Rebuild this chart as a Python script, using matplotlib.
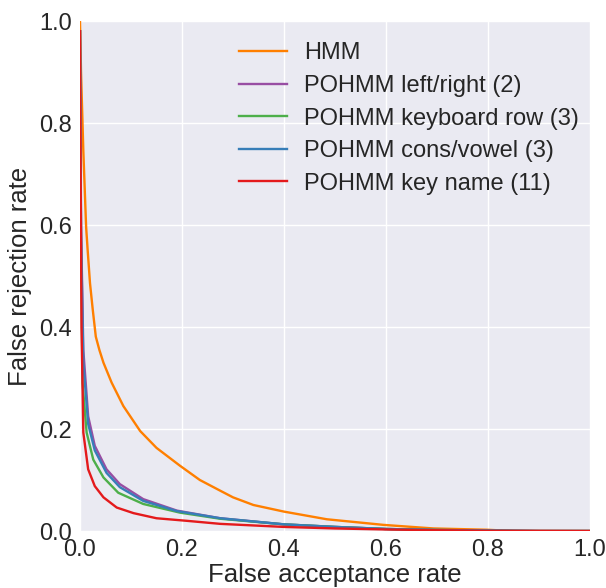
import matplotlib
matplotlib.use("Agg")
import matplotlib.pyplot as plt

labels = ["HMM", "POHMM left/right (2)", "POHMM keyboard row (3)",
          "POHMM cons/vowel (3)", "POHMM key name (11)"]
colors = ["#ff7f00", "#984ea3", "#4daf4a", "#377eb8", "#e41a1c"]

hmm_x = [0, 0.002, 0.0065, 0.012, 0.015, 0.0196, 0.025, 0.031, 0.038, 0.046, 0.062,
         0.085, 0.118, 0.150, 0.196, 0.235, 0.275, 0.30, 0.34, 0.40, 0.484, 0.595,
         0.693, 0.797, 0.85, 1.0]
hmm_y = [1.0, 0.9, 0.746, 0.596, 0.551, 0.486, 0.434, 0.381, 0.355, 0.330, 0.291,
         0.245, 0.196, 0.163, 0.128, 0.100, 0.079, 0.066, 0.051, 0.038, 0.023, 0.012,
         0.005, 0.0025, 0.0, 0.0]

lr_x = [0, 0.002, 0.0065, 0.016, 0.029, 0.052, 0.078, 0.124, 0.19, 0.275, 0.4, 0.5,
        0.6, 0.7, 0.8, 0.9, 1.0]
lr_y = [0.98, 0.6, 0.355, 0.225, 0.167, 0.121, 0.092, 0.0625, 0.040, 0.025, 0.013,
        0.008, 0.004, 0.002, 0.001, 0.0, 0.0]

row_x = [0, 0.002, 0.005, 0.013, 0.026, 0.046, 0.075, 0.124, 0.196, 0.275, 0.4, 0.5,
         0.6, 0.7, 0.8, 0.9, 1.0]
row_y = [0.98, 0.55, 0.29, 0.193, 0.14, 0.105, 0.075, 0.053, 0.036, 0.024, 0.013,
         0.008, 0.004, 0.002, 0.001, 0.0, 0.0]

cv_x = [0, 0.002, 0.0065, 0.016, 0.029, 0.052, 0.078, 0.124, 0.19, 0.275, 0.4, 0.5,
        0.6, 0.7, 0.8, 0.9, 1.0]
cv_y = [0.98, 0.58, 0.33, 0.21, 0.158, 0.114, 0.086, 0.059, 0.039, 0.025, 0.013,
        0.008, 0.004, 0.002, 0.001, 0.0, 0.0]

kn_x = [0, 0.001, 0.003, 0.0065, 0.016, 0.029, 0.046, 0.072, 0.105, 0.150, 0.209,
        0.275, 0.4, 0.5, 0.6, 0.7, 0.8, 1.0]
kn_y = [0.98, 0.75, 0.4, 0.193, 0.121, 0.088, 0.066, 0.046, 0.035, 0.025, 0.020,
        0.014, 0.008, 0.005, 0.003, 0.0015, 0.0005, 0.0]

ticks = [0.0, 0.2, 0.4, 0.6, 0.8, 1.0]
tick_labels = ["0.0", "0.2", "0.4", "0.6", "0.8", "1.0"]

plt.rcParams['font.family'] = ['Liberation Sans', 'DejaVu Sans']

fig = plt.figure(figsize=(6.06, 5.88), dpi=100)
ax = fig.add_axes([80/606, 57/588, 510/606, 510/588])
ax.set_facecolor("#EAEAF2")
for s in ax.spines.values():
    s.set_visible(False)
ax.grid(True, color="white", linewidth=1.0)
ax.set_axisbelow(True)

series = [(hmm_x, hmm_y), (lr_x, lr_y), (row_x, row_y), (cv_x, cv_y), (kn_x, kn_y)]
for (xs, ys), lab, c in zip(series, labels, colors):
    ax.plot(xs, ys, color=c, lw=1.7, label=lab)

ax.set_xlim(0, 1)
ax.set_ylim(0, 1)
ax.set_xticks(ticks)
ax.set_xticklabels(tick_labels)
ax.set_yticks(ticks)
ax.set_yticklabels(tick_labels)
ax.tick_params(length=0, labelsize=17, colors="#262626", pad=6)
ax.set_xlabel("False acceptance rate", fontsize=18.5, color="#262626", labelpad=1)
ax.set_ylabel("False rejection rate", fontsize=18.5, color="#262626", labelpad=5)

leg = ax.legend(loc="upper left", bbox_to_anchor=(0.271, 1.0), frameon=False,
                fontsize=17, handlelength=2.0, labelspacing=0.45, handletextpad=0.75)
for t in leg.get_texts():
    t.set_color("#262626")

fig.savefig("out.png", dpi=100)
